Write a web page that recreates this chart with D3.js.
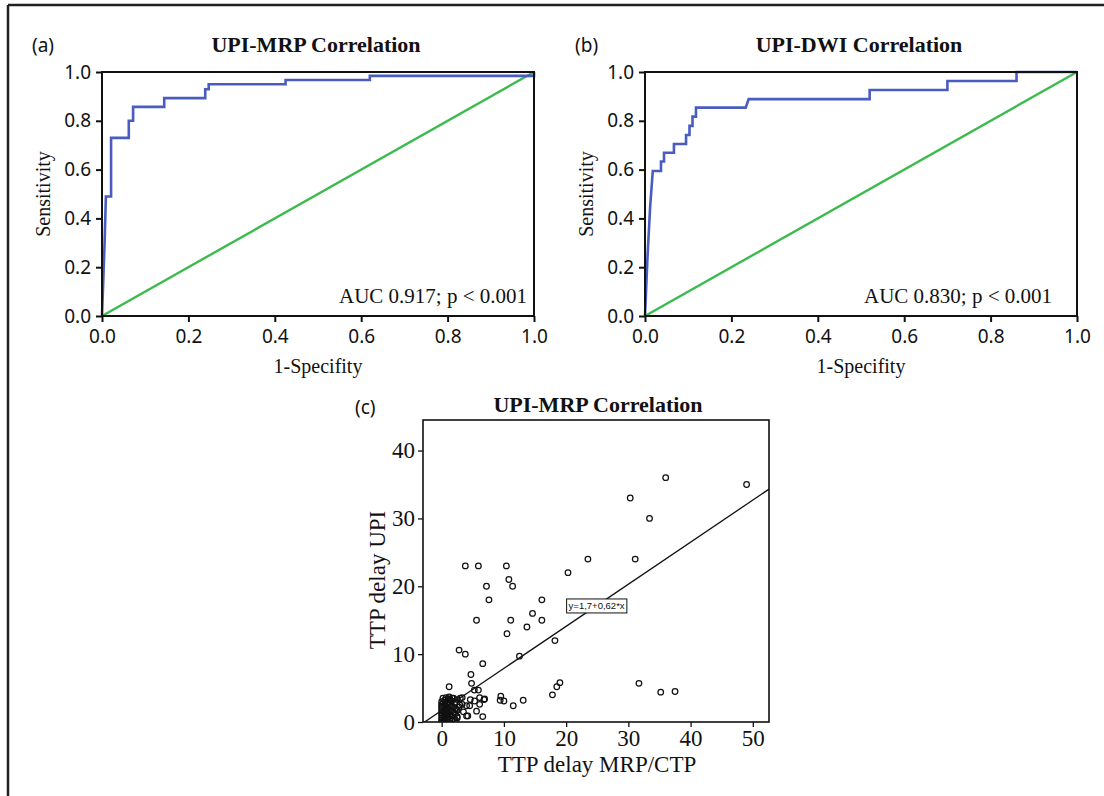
<!DOCTYPE html>
<html>
<head>
<meta charset="utf-8">
<script src="https://cdn.jsdelivr.net/npm/d3@7"></script>
<style>
  html, body { margin: 0; padding: 0; background: #fff; }
  svg { display: block; }
</style>
</head>
<body>
<svg id="fig" width="1104" height="796"></svg>
<script>
// ROC curve (a): UPI vs MRP — vertices of the empirical curve
const rocA_fpr = [0, 0.006, 0.009, 0.021, 0.021, 0.062, 0.062, 0.072, 0.072, 0.144, 0.144, 0.239, 0.239, 0.247, 0.247, 0.425, 0.425, 0.62, 0.62, 1.0, 1.0];
const rocA_tpr = [0, 0.30, 0.49, 0.49, 0.73, 0.73, 0.80, 0.80, 0.857, 0.857, 0.893, 0.893, 0.929, 0.929, 0.95, 0.95, 0.967, 0.967, 0.984, 0.984, 1.0];

// ROC curve (b): UPI vs DWI
const rocB_fpr = [0, 0.006, 0.012, 0.018, 0.037, 0.037, 0.044, 0.044, 0.067, 0.067, 0.095, 0.095, 0.103, 0.103, 0.110, 0.110, 0.118, 0.118, 0.233, 0.240, 0.52, 0.52, 0.70, 0.70, 0.86, 0.86, 1.0];
const rocB_tpr = [0, 0.25, 0.45, 0.594, 0.594, 0.633, 0.633, 0.669, 0.669, 0.705, 0.705, 0.742, 0.742, 0.779, 0.779, 0.817, 0.817, 0.854, 0.854, 0.889, 0.889, 0.926, 0.926, 0.963, 0.963, 1.0, 1.0];

const rocTicks = [0, 0.2, 0.4, 0.6, 0.8, 1.0];
const aucLabels = ["AUC 0.917; p < 0.001", "AUC 0.830; p < 0.001"];
const rocTitles = ["UPI-MRP Correlation", "UPI-DWI Correlation"];
const panelTags = ["(a)", "(b)", "(c)"];

// Scatter (c): TTP delay MRP/CTP (x) vs TTP delay UPI (y)
const ttpMRP = [
  49, 36, 30.3, 33.4, 31.1, 23.5, 20.3, 3.8, 5.9, 10.4, 10.8, 11.4, 7.2, 7.6, 16.1, 14.6, 5.6, 11.1, 16.1, 13.7,
  10.5, 18.2, 2.8, 3.8, 12.5, 6.6, 4.7, 4.8, 1.2, 5.25, 5.9, 31.7, 19.0, 18.5, 17.8, 35.2, 37.5, 9.5, 9.4, 10.0,
  13.1, 11.5, 6.6, 6.9, 6.8, 6.1, 5.6, 4.0, 4.2, 4.5, 4.6, 3.3, 4.0, 2.9, 2.1, 1.7, 2.4, 6.1, 5.3, 2.5,
  0, 0, 0, 0, 0, 0, 0, 0, 0, 0, 0.3, 0.3, 0.3, 0.3, 0.3, 0.5, 0.5, 0.5, 0.5, 0.5,
  0.5, 0.8, 0.8, 0.8, 0.8, 0.8, 1, 1, 1, 1, 1, 1, 1.3, 1.3, 1.3, 1.3, 1.3, 1.6, 1.6, 1.6,
  1.6, 1.6, 1.9, 1.9, 1.9, 1.9, 2.2, 2.2, 2.2, 2.2, 2.5, 2.5, 2.5, 2.8, 3.0, 3.3, 3.5, 0.2, 0.7, 1.2
];
const ttpUPI = [
  35, 36, 33, 30, 24, 24, 22, 23, 23, 23, 21, 20, 20, 18, 18, 16, 15, 15, 15, 14,
  13, 12, 10.6, 10, 9.7, 8.6, 7, 5.7, 5.2, 4.7, 4.7, 5.7, 5.8, 5.2, 4.0, 4.4, 4.5, 3.8, 3.2, 3.1,
  3.2, 2.4, 0.8, 3.4, 3.3, 2.6, 1.6, 0.9, 0.9, 2.4, 3.3, 3.6, 2.4, 2.5, 2.8, 3.5, 1.8, 3.6, 3.1, 0.8,
  0, 0.3, 0.6, 1, 1.3, 1.6, 2, 2.3, 2.6, 3, 0.2, 0.8, 1.5, 2.2, 2.9, 0, 0.5, 1.1, 1.8, 2.5,
  3.2, 0.3, 1, 1.6, 2.2, 2.9, 0, 0.7, 1.3, 2, 2.7, 3.3, 0.4, 1.1, 1.8, 2.5, 3.4, 0.2, 0.9, 1.6,
  2.4, 3.1, 0.5, 1.4, 2.2, 3.5, 0.3, 1.2, 2, 2.9, 0.6, 1.7, 3.3, 2.2, 3.5, 2.6, 1.5, 3.5, 3.6, 3.7
];
const scatterXTicks = [0, 10, 20, 30, 40, 50];
const scatterYTicks = [0, 10, 20, 30, 40];
const fitIntercept = 1.7;
const fitSlope = 0.62;
const fitLabel = "y=1,7+0,62*x";

const svg = d3.select("#fig");
const SERIF = "'Liberation Serif', 'Times New Roman', serif";
const SANS = "'Noto Sans', 'DejaVu Sans', sans-serif";
const BLUE = "#4a5cc0";
const GREEN = "#3dba4e";
const INK = "#111";

// outer frame lines (top and left)
svg.append("line").attr("x1", 8).attr("y1", 5).attr("x2", 1104).attr("y2", 5)
  .attr("stroke", "#231f20").attr("stroke-width", 2.5);
svg.append("line").attr("x1", 8).attr("y1", 5).attr("x2", 8).attr("y2", 796)
  .attr("stroke", "#231f20").attr("stroke-width", 2.5);

function styleAxis(g, family, size) {
  g.select(".domain").remove();
  g.selectAll(".tick line").attr("stroke", INK).attr("stroke-width", 2);
  g.selectAll(".tick text").attr("fill", INK).style("font-family", family).style("font-size", size + "px");
}

function drawRoc(left, fpr, tpr, idx, aucInset) {
  const plotW = 432, top = 72, bottom = 316;
  const x = d3.scaleLinear().domain([0, 1]).range([left, left + plotW]);
  const y = d3.scaleLinear().domain([0, 1]).range([bottom, top]);
  const g = svg.append("g");

  const fmt = d3.format(".1f");
  const gx = g.append("g").attr("transform", `translate(0,${bottom})`)
    .call(d3.axisBottom(x).tickValues(rocTicks).tickFormat(fmt).tickSize(6).tickPadding(8));
  styleAxis(gx, SANS, 19);
  const gy = g.append("g").attr("transform", `translate(${left},0)`)
    .call(d3.axisLeft(y).tickValues(rocTicks).tickFormat(fmt).tickSize(6).tickPadding(5));
  styleAxis(gy, SANS, 19);

  // reference diagonal
  g.append("line")
    .attr("x1", x(0)).attr("y1", y(0)).attr("x2", x(1)).attr("y2", y(1))
    .attr("stroke", GREEN).attr("stroke-width", 2.4);

  // ROC curve
  const pts = fpr.map((f, i) => [f, tpr[i]]);
  g.append("path").datum(pts)
    .attr("d", d3.line().x(d => x(d[0])).y(d => y(d[1])))
    .attr("fill", "none").attr("stroke", BLUE).attr("stroke-width", 2.6)
    .attr("stroke-linejoin", "miter");

  // plot frame
  g.append("rect").attr("x", x(0)).attr("y", y(1))
    .attr("width", x(1) - x(0)).attr("height", y(0) - y(1))
    .attr("fill", "none").attr("stroke", INK).attr("stroke-width", 2);

  g.append("text").attr("x", x(1) - aucInset).attr("y", y(0) - 13)
    .attr("text-anchor", "end").style("font-family", SERIF).style("font-size", "21px")
    .attr("fill", INK).text(aucLabels[idx]);

  g.append("text").attr("x", (x(0) + x(1)) / 2).attr("y", 373)
    .attr("text-anchor", "middle").style("font-family", SERIF).style("font-size", "20px")
    .attr("fill", INK).text("1-Specifity");

  g.append("text")
    .attr("transform", `translate(${left - 52},${(top + bottom) / 2}) rotate(-90)`)
    .attr("text-anchor", "middle").style("font-family", SERIF).style("font-size", "20px")
    .attr("fill", INK).text("Sensitivity");

  g.append("text").attr("x", (x(0) + x(1)) / 2 - 2).attr("y", 52)
    .attr("text-anchor", "middle").style("font-family", SERIF).style("font-size", "22px")
    .style("font-weight", "bold").attr("fill", INK).text(rocTitles[idx]);

  g.append("text").attr("x", left - 70).attr("y", 52)
    .style("font-family", SANS).style("font-size", "19px")
    .attr("fill", INK).text(panelTags[idx]);
}

drawRoc(102, rocA_fpr, rocA_tpr, 0, 7);
drawRoc(645, rocB_fpr, rocB_tpr, 1, 25);

// ---- scatter panel (c)
(function () {
  const x = d3.scaleLinear().domain([-3, 52.6]).range([423, 769]);
  const y = d3.scaleLinear().domain([0, 44.5]).range([722, 420]);
  const g = svg.append("g");

  g.append("defs").append("clipPath").attr("id", "clipC")
    .append("rect").attr("x", x(-3)).attr("y", y(44.5))
    .attr("width", x(52.6) - x(-3)).attr("height", y(0) - y(44.5));

  const gx = g.append("g").attr("transform", `translate(0,${y(0)})`)
    .call(d3.axisBottom(x).tickValues(scatterXTicks).tickSize(5).tickPadding(3));
  styleAxis(gx, SERIF, 23);
  gx.selectAll(".tick line").attr("stroke-width", 1.3);
  const gy = g.append("g").attr("transform", `translate(${x(-3)},0)`)
    .call(d3.axisLeft(y).tickValues(scatterYTicks).tickSize(5).tickPadding(3));
  styleAxis(gy, SERIF, 23);
  gy.selectAll(".tick line").attr("stroke-width", 1.3);

  const pts = ttpMRP.map((v, i) => [v, ttpUPI[i]]);
  g.append("g").attr("clip-path", "url(#clipC)")
    .selectAll("circle").data(pts).join("circle")
    .attr("cx", d => x(d[0])).attr("cy", d => y(d[1])).attr("r", 2.8)
    .attr("fill", "none").attr("stroke", INK).attr("stroke-width", 1.25);

  // least-squares fit line across the plot
  const xd = x.domain();
  g.append("line").attr("clip-path", "url(#clipC)")
    .attr("x1", x(xd[0])).attr("y1", y(fitIntercept + fitSlope * xd[0]))
    .attr("x2", x(xd[1])).attr("y2", y(fitIntercept + fitSlope * xd[1]))
    .attr("stroke", INK).attr("stroke-width", 1.3);

  // fit equation label in a boxed tag
  const tag = g.append("g");
  const box = tag.append("rect");
  const lbl = tag.append("text").attr("x", x(24.9)).attr("y", y(17.1) + 3.5)
    .attr("text-anchor", "middle").style("font-family", "'Liberation Sans', Arial, sans-serif")
    .style("font-size", "9.5px").attr("fill", INK).text(fitLabel);
  const bb = lbl.node().getBBox();
  box.attr("x", bb.x - 2).attr("y", bb.y - 1.5).attr("width", bb.width + 4).attr("height", bb.height + 3)
    .attr("fill", "#fff").attr("stroke", INK).attr("stroke-width", 1);

  g.append("rect").attr("x", x(-3)).attr("y", y(44.5))
    .attr("width", x(52.6) - x(-3)).attr("height", y(0) - y(44.5))
    .attr("fill", "none").attr("stroke", INK).attr("stroke-width", 1.6);

  g.append("text").attr("x", 598).attr("y", 412)
    .attr("text-anchor", "middle").style("font-family", SERIF).style("font-size", "22px")
    .style("font-weight", "bold").attr("fill", INK).text("UPI-MRP Correlation");

  g.append("text").attr("x", 597).attr("y", 772)
    .attr("text-anchor", "middle").style("font-family", SERIF).style("font-size", "23px")
    .attr("fill", INK).text("TTP delay MRP/CTP");

  g.append("text")
    .attr("transform", `translate(385,580) rotate(-90)`)
    .attr("text-anchor", "middle").style("font-family", SERIF).style("font-size", "23px")
    .attr("fill", INK).text("TTP delay UPI");

  g.append("text").attr("x", 355).attr("y", 414)
    .style("font-family", SANS).style("font-size", "19px")
    .attr("fill", INK).text(panelTags[2]);
})();
</script>
</body>
</html>
